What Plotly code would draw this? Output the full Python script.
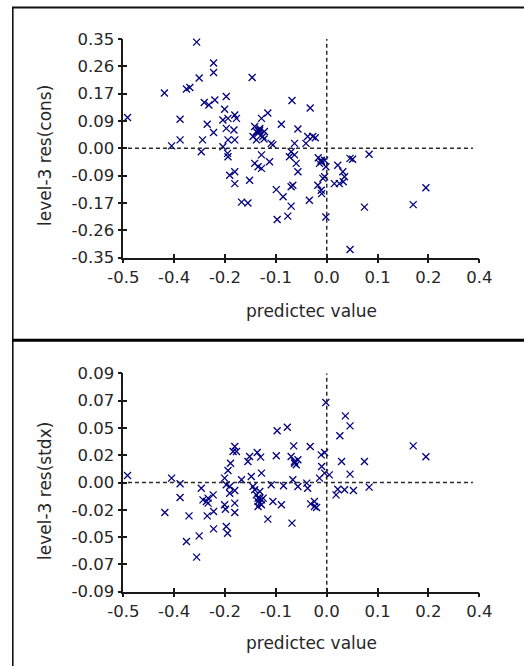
import plotly.graph_objects as go

# ---------------- data ----------------
top_x = [-0.307, -0.267, -0.267, -0.301, -0.176, -0.383, -0.331, -0.323, -0.470, -0.346,
         -0.366, -0.346, -0.296, -0.293, -0.282, -0.267, -0.289, -0.278, -0.264, -0.237,
         -0.241, -0.245, -0.233, -0.217, -0.213, -0.237, -0.219, -0.233, -0.217, -0.245,
         -0.234, -0.233, -0.229, -0.217, -0.217, -0.182, -0.201, -0.186, -0.170, -0.162,
         -0.158, -0.154, -0.139, -0.174, -0.166, -0.151, -0.131, -0.127, -0.154, -0.170,
         -0.162, -0.154, -0.135, -0.107, -0.082, -0.068, -0.076, -0.084, -0.088, -0.076,
         -0.072, -0.068, -0.084, -0.080, -0.119, -0.103, -0.084, -0.117, -0.092, -0.039,
         -0.045, -0.033, -0.027, -0.049, -0.041, -0.013, -0.005, -0.017, -0.002, -0.005,
         -0.009, -0.021, -0.013, -0.012, -0.002, 0.026, 0.038, 0.042, 0.030, 0.018,
         0.039, 0.055, 0.061, 0.100, 0.089, 0.055, 0.204, 0.234, -0.160, -0.148, -0.020,
         -0.158, -0.166, -0.147, -0.013]
top_y = [0.340, 0.273, 0.243, 0.225, 0.227, 0.177, 0.190, 0.195, 0.099, 0.093,
         0.008, 0.027, -0.011, 0.027, 0.077, 0.051, 0.147, 0.139, 0.155, 0.166,
         0.125, 0.091, 0.096, 0.107, 0.096, 0.064, 0.059, 0.027, 0.027, 0.005,
         -0.016, -0.027, -0.086, -0.075, -0.113, -0.102, -0.172, -0.175, 0.070, 0.048,
         0.064, 0.096, 0.113, 0.038, 0.027, 0.038, 0.016, 0.011, -0.021, -0.048,
         -0.059, -0.064, -0.043, 0.077, 0.153, 0.062, 0.016, -0.011, -0.027, -0.021,
         -0.048, -0.075, -0.123, -0.118, -0.132, -0.155, -0.185, -0.228, -0.217, 0.129,
         0.038, 0.038, 0.034, 0.016, -0.166, -0.038, -0.038, -0.048, -0.059, -0.091,
         -0.096, -0.118, -0.134, -0.145, -0.220, -0.054, -0.075, -0.091, -0.113, -0.113,
         -0.107, -0.032, -0.035, -0.019, -0.188, -0.324, -0.180, -0.126, 0.055, 0.030, -0.030,
         0.059, 0.054, 0.054, -0.043]

bot_x = [-0.470, -0.366, -0.346, -0.346, -0.382, -0.325, -0.331, -0.301, -0.307, -0.296,
         -0.292, -0.284, -0.268, -0.280, -0.282, -0.267, -0.267, -0.237, -0.234, -0.241,
         -0.239, -0.217, -0.217, -0.241, -0.237, -0.229, -0.217, -0.233, -0.227, -0.221,
         -0.217, -0.213, -0.201, -0.186, -0.182, -0.164, -0.156, -0.178, -0.174, -0.170,
         -0.158, -0.154, -0.162, -0.158, -0.154, -0.162, -0.150, -0.139, -0.127, -0.107,
         -0.131, -0.119, -0.117, -0.093, -0.102, -0.084, -0.078, -0.076, -0.072, -0.068,
         -0.080, -0.068, -0.082, -0.039, -0.047, -0.045, -0.038, -0.029, -0.024, -0.017,
         -0.013, -0.005, -0.012, -0.005, -0.002, 0.006, 0.044, 0.055, 0.031, 0.035,
         0.055, 0.026, 0.022, 0.042, 0.063, 0.089, 0.100, 0.204, 0.234,
         -0.166, -0.158, -0.154, -0.162, -0.229, -0.029, -0.280, -0.076]
bot_y = [0.0058, 0.0036, -0.0011, -0.0124, -0.0247, -0.0275, -0.0486, -0.0440, -0.0615, -0.0047,
         -0.0143, -0.0157, -0.0102, -0.0170, -0.0275, -0.0239, -0.0382, -0.0363, -0.0418, -0.0184,
         -0.0220, -0.0170, -0.0247, 0.0036, -0.0019, -0.0088, -0.0066, 0.0099, 0.0159, 0.0255,
         0.0297, 0.0255, 0.0022, 0.0173, 0.0214, 0.0247, 0.0209, 0.0049, -0.0033, -0.0060,
         -0.0074, 0.0077, -0.0129, -0.0170, -0.0143, -0.0198, -0.0129, -0.0302, -0.0157, -0.0184,
         -0.0019, 0.0220, 0.0426, 0.0456, -0.0027, 0.0214, 0.0302, 0.0173, 0.0146, 0.0187,
         0.0022, -0.0033, -0.0335, 0.0297, -0.0005, -0.0047, -0.0176, -0.0157, -0.0206, 0.0036,
         0.0228, 0.0247, 0.0132, 0.0077, 0.0659, 0.0063, 0.0549, 0.0467, 0.0385, 0.0173,
         0.0069, -0.0055, -0.0102, -0.0060, -0.0066, 0.0173, -0.0038, 0.0302, 0.0212,
         -0.0102, -0.0129, -0.0184, -0.0157, -0.0033, -0.0198, -0.0129, 0.0159]

x_tickvals = [-0.48, -0.36, -0.24, -0.12, 0.0, 0.12, 0.24, 0.36]
x_ticktext = ["-0.5", "-0.4", "-0.2", "-0.1", "0.0", "0.1", "0.2", "0.4"]
top_tickvals = [0.35, 0.2625, 0.175, 0.0875, 0.0, -0.0875, -0.175, -0.2625, -0.35]
top_ticktext = ["0.35", "0.26", "0.17", "0.09", "0.00", "-0.09", "-0.17", "-0.26", "-0.35"]
bot_tickvals = [0.09, 0.0675, 0.045, 0.0225, 0.0, -0.0225, -0.045, -0.0675, -0.09]
bot_ticktext = ["0.09", "0.07", "0.05", "0.02", "0.00", "-0.02", "-0.05", "-0.07", "-0.09"]

x_range = [-0.48, 0.36]
top_range = [-0.35, 0.35]
bot_range = [-0.09, 0.09]
x_title = "predictec value"
top_title = "level-3 res(cons)"
bot_title = "level-3 res(stdx)"

# ---------------- layout helpers ----------------
W, H = 524, 666
def px_x(p):
    return p / W
def px_y(p):
    return 1 - p / H

XDOM = [px_x(123.3), px_x(479.3)]
TOPDOM = [px_y(257.7), px_y(39.0)]
BOTDOM = [px_y(591.7), px_y(373.3)]

AX = "#1a1a1a"
TXT = "#262626"
FONT = "DejaVu Sans"
MARK = "#000080"

fig = go.Figure()

marker = dict(symbol="x-thin", size=7, color=MARK, line=dict(color=MARK, width=1.3))
fig.add_trace(go.Scatter(x=top_x, y=top_y, mode="markers", marker=marker,
                         xaxis="x", yaxis="y", cliponaxis=False, showlegend=False))
fig.add_trace(go.Scatter(x=bot_x, y=bot_y, mode="markers", marker=marker,
                         xaxis="x2", yaxis="y2", cliponaxis=False, showlegend=False))
# dummy traces for the inside-tick overlay axes
fig.add_trace(go.Scatter(x=[], y=[], xaxis="x3", yaxis="y3", showlegend=False))
fig.add_trace(go.Scatter(x=[], y=[], xaxis="x4", yaxis="y4", showlegend=False))

def main_x(anchor):
    return dict(domain=XDOM, range=x_range, anchor=anchor, tickmode="array",
                tickvals=x_tickvals, ticktext=x_ticktext, ticks="outside", ticklen=4,
                tickwidth=1.5, tickcolor=AX, showline=True, linecolor=AX, linewidth=1.5,
                showgrid=False, zeroline=False, automargin=False,
                tickfont=dict(family=FONT, size=16.5, color=TXT))

def main_y(dom, rng, tv, tt, anchor):
    return dict(domain=dom, range=rng, anchor=anchor, tickmode="array",
                tickvals=tv, ticktext=tt, ticks="outside", ticklen=4,
                tickwidth=1.5, tickcolor=AX, showline=True, linecolor=AX, linewidth=1.5,
                showgrid=False, zeroline=False, automargin=False,
                tickfont=dict(family=FONT, size=16.5, color=TXT))

def over(base, anchor, rng, tv):
    return dict(overlaying=base, anchor=anchor, range=rng, tickmode="array", tickvals=tv,
                ticks="inside", ticklen=4, tickwidth=1.5, tickcolor=AX, showticklabels=False,
                showline=False, showgrid=False, zeroline=False, automargin=False)

shapes = []
# dashed reference lines
for xr, yr, rng in [("x", "y", top_range), ("x2", "y2", bot_range)]:
    shapes.append(dict(type="line", xref=xr, yref=yr, x0=-0.469, x1=0.345, y0=0, y1=0,
                       line=dict(color="#2a2a2a", width=1.5, dash="4px,3px")))
    shapes.append(dict(type="line", xref=xr, yref=yr, x0=0, x1=0, y0=rng[0], y1=rng[1],
                       line=dict(color="#2a2a2a", width=1.5, dash="4px,3px")))
# panel frame lines
shapes.append(dict(type="line", xref="paper", yref="paper", x0=px_x(12), x1=1.0,
                   y0=px_y(7.5), y1=px_y(7.5), line=dict(color="#111111", width=2)))
shapes.append(dict(type="line", xref="paper", yref="paper", x0=px_x(12.8), x1=px_x(12.8),
                   y0=px_y(7), y1=0, line=dict(color="#111111", width=1.6)))
shapes.append(dict(type="line", xref="paper", yref="paper", x0=px_x(12), x1=1.0,
                   y0=px_y(340.3), y1=px_y(340.3), line=dict(color="#000000", width=3)))

tfont = dict(family=FONT, size=17, color=TXT)
annotations = [
    dict(text=x_title, xref="paper", yref="paper", x=px_x(311.7), y=px_y(310.5),
         xanchor="center", yanchor="middle", showarrow=False, font=tfont),
    dict(text=x_title, xref="paper", yref="paper", x=px_x(311.7), y=px_y(643),
         xanchor="center", yanchor="middle", showarrow=False, font=tfont),
    dict(text=top_title, xref="paper", yref="paper", x=px_x(45), y=px_y(156),
         xanchor="center", yanchor="middle", textangle=-90, showarrow=False, font=tfont),
    dict(text=bot_title, xref="paper", yref="paper", x=px_x(45), y=px_y(491),
         xanchor="center", yanchor="middle", textangle=-90, showarrow=False, font=tfont),
]

fig.update_layout(
    width=W, height=H, margin=dict(l=0, r=0, t=0, b=0, pad=0, autoexpand=False),
    paper_bgcolor="white", plot_bgcolor="white", showlegend=False,
    xaxis=main_x("y"),
    yaxis=main_y(TOPDOM, top_range, top_tickvals, top_ticktext, "x"),
    xaxis2=main_x("y2"),
    yaxis2=main_y(BOTDOM, bot_range, bot_tickvals, bot_ticktext, "x2"),
    xaxis3=over("x", "y", x_range, x_tickvals),
    yaxis3=over("y", "x", top_range, top_tickvals),
    xaxis4=over("x2", "y2", x_range, x_tickvals),
    yaxis4=over("y2", "x2", bot_range, bot_tickvals),
    shapes=shapes, annotations=annotations,
)

fig.write_html("out.html")
